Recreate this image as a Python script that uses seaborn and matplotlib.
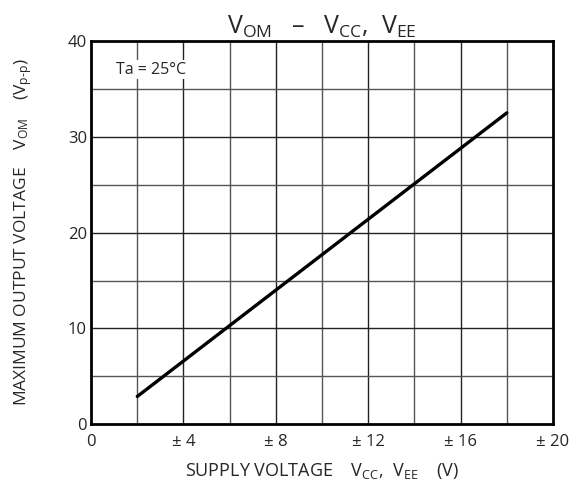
# V_OM vs supply voltage curve
import seaborn as sns
import matplotlib.pyplot as plt
import pandas as pd

supply_v = [2, 18]
vom = [2.9, 32.5]
x_ticks = [0, 4, 8, 12, 16, 20]
x_labels = ['0', '± 4', '± 8', '± 12', '± 16', '± 20']
y_ticks = [0, 10, 20, 30, 40]

df = pd.DataFrame({'supply': supply_v, 'vom': vom})

sns.set_style('white')
plt.rcParams['font.family'] = ['Open Sans', 'DejaVu Sans']
plt.rcParams['mathtext.fontset'] = 'custom'
plt.rcParams['mathtext.rm'] = 'Open Sans'

fig = plt.figure(figsize=(5.84, 4.91), dpi=100)
ax = fig.add_axes([0.156, 0.136, 0.791, 0.7805])

# grid
for gx in range(2, 20, 2):
    ax.axvline(gx, color='#222222' if gx % 4 == 0 else '#555555', lw=1.0, zorder=1)
for gy in range(5, 40, 5):
    ax.axhline(gy, color='#222222' if gy % 10 == 0 else '#555555', lw=1.0, zorder=1)

sns.lineplot(data=df, x='supply', y='vom', color='black', linewidth=2.4, ax=ax, zorder=3)

ax.set_xlim(0, 20)
ax.set_ylim(0, 40)
ax.set_xticks(x_ticks)
ax.set_xticklabels(x_labels)
ax.set_yticks(y_ticks)
ax.tick_params(length=0, labelsize=12)
ax.tick_params(axis='x', pad=7)
ax.tick_params(axis='y', pad=3)
for s in ax.spines.values():
    s.set_linewidth(2)
    s.set_color('black')

ax.text(2.6, 37, 'Ta = 25°C', ha='center', va='center', fontsize=11.5,
        bbox=dict(facecolor='white', edgecolor='none', pad=1))

ax.set_title(r'$\mathregular{V_{OM}}$   –   $\mathregular{V_{CC},\ V_{EE}}$',
             fontsize=18, pad=5)
ax.set_xlabel(r'SUPPLY VOLTAGE    $\mathregular{V_{CC},\ V_{EE}}$    (V)',
              fontsize=13, labelpad=8)
ax.set_ylabel(r'MAXIMUM OUTPUT VOLTAGE    $\mathregular{V_{OM}}$    $\mathregular{(V_{p\text{-}p})}$',
              fontsize=12.5, labelpad=24)

fig.savefig('out.png', dpi=100)
